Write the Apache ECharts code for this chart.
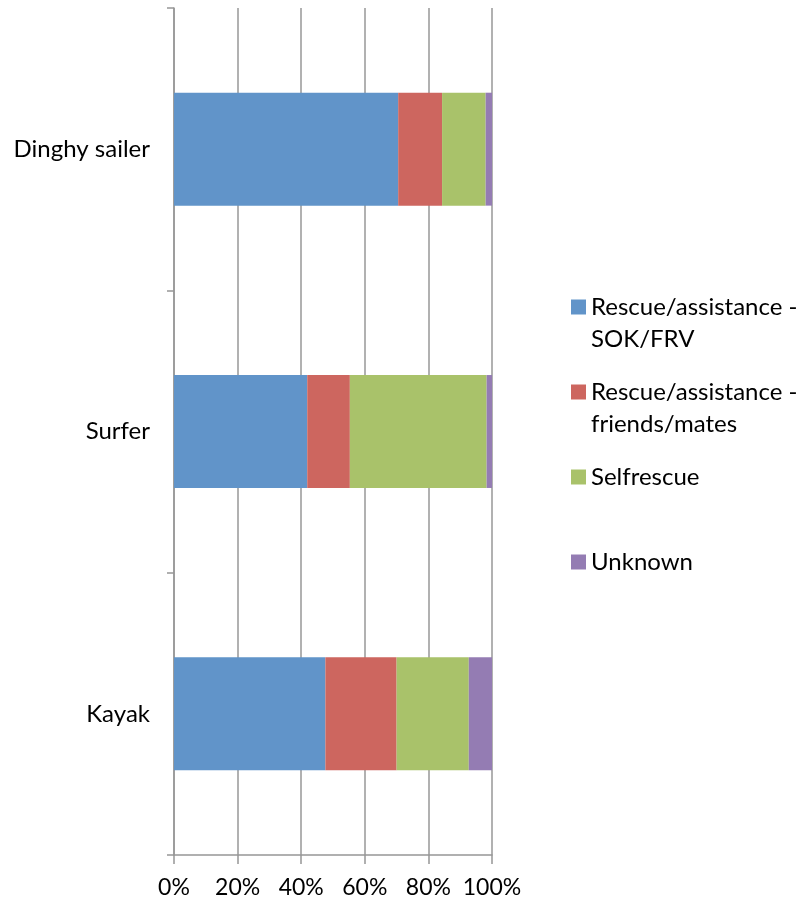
<!DOCTYPE html>
<html>
<head>
<meta charset="utf-8">
<script src="https://cdn.jsdelivr.net/npm/echarts@6/dist/echarts.min.js"></script>
<style>
  html, body { margin: 0; padding: 0; background: #fff; }
  #chart { width: 807px; height: 902px; }
</style>
</head>
<body>
<div id="chart"></div>
<script>
// Activity groups, bottom to top on the category axis
const categories = ['Kayak', 'Surfer', 'Dinghy sailer'];

// Share of incidents per rescue type (percent of each group)
const rescueSokFrv = [47.6, 41.9, 70.5];
const rescueFriends = [22.4, 13.4, 13.8];
const selfRescue = [22.7, 43.0, 13.7];
const unknown = [7.3, 1.7, 2.0];

const seriesNames = [
  'Rescue/assistance - SOK/FRV',
  'Rescue/assistance - friends/mates',
  'Selfrescue',
  'Unknown'
];
const legendLabels = [
  'Rescue/assistance -\nSOK/FRV',
  'Rescue/assistance -\nfriends/mates',
  'Selfrescue',
  'Unknown'
];
const xTicks = [0, 20, 40, 60, 80, 100];

const colors = ['#6194C9', '#CD665F', '#A9C26A', '#947CB3'];
const FONT = 'Lato';
const LINE = 32;
const gridColor = '#979797';

const seriesValues = [rescueSokFrv, rescueFriends, selfRescue, unknown];

const chart = echarts.init(document.getElementById('chart'), null, { renderer: 'canvas' });

// Wrapped legend entries keep the swatch beside their first line: a blank
// leading line puts the first text line at the vertical middle of the entry.
function legendText(name) {
  const label = legendLabels[seriesNames.indexOf(name)];
  return label.indexOf('\n') >= 0 ? ' \n' + label : label;
}

chart.setOption({
  animation: false,
  color: colors,
  grid: { left: 174, right: 315, top: 8, bottom: 47, containLabel: false },
  xAxis: {
    type: 'value',
    min: xTicks[0],
    max: xTicks[xTicks.length - 1],
    interval: 20,
    axisLine: { show: true, lineStyle: { color: gridColor, width: 1.5 } },
    axisTick: { show: true, inside: false, length: 9, lineStyle: { color: gridColor, width: 1.5 } },
    splitLine: { show: true, lineStyle: { color: gridColor, width: 1.5 } },
    axisLabel: {
      formatter: '{value}%',
      color: '#000',
      fontFamily: FONT,
      fontSize: 23,
      margin: 21
    }
  },
  yAxis: {
    type: 'category',
    data: categories,
    axisLine: { show: true, lineStyle: { color: gridColor, width: 1.5 } },
    axisTick: { show: true, inside: false, length: 7, lineStyle: { color: gridColor, width: 1.5 } },
    splitLine: { show: false },
    axisLabel: {
      color: '#000',
      fontFamily: FONT,
      fontSize: 24,
      margin: 24
    }
  },
  legend: {
    orient: 'vertical',
    left: 571,
    top: 259,
    padding: 0,
    itemWidth: 15,
    itemHeight: 15,
    itemGap: -11,
    icon: 'rect',
    selectedMode: false,
    textStyle: {
      color: '#000',
      fontFamily: FONT,
      fontSize: 24,
      lineHeight: LINE
    },
    formatter: legendText,
    data: seriesNames.map(function (name, i) {
      const twoLines = legendLabels[i].indexOf('\n') >= 0;
      return {
        name: name,
        textStyle: {
          padding: twoLines ? 0 : [LINE, 0, LINE, 0]
        }
      };
    })
  },
  series: seriesNames.map(function (name, i) {
    return {
      name: name,
      type: 'bar',
      stack: 'share',
      barWidth: '40%',
      data: seriesValues[i],
      itemStyle: { color: colors[i] }
    };
  })
});
</script>
</body>
</html>
